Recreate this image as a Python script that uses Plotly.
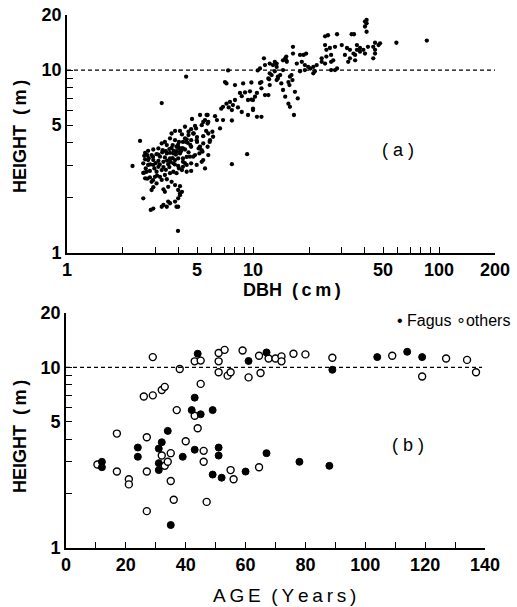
import plotly.graph_objects as go
import math

# ---------------- Panel (a): DBH (cm) vs HEIGHT (m) ----------------
dbh_a = [
    3.23, 5.19, 5.7, 5.52, 5.7, 5.3, 4.88, 4.65, 4.31, 4.05,
    3.81, 3.65, 4.15, 4.5, 4.8, 5.0, 5.4, 5.75, 5.85, 5.4,
    5.0, 4.65, 4.4, 4.2, 4.0, 3.81, 3.58, 3.36, 3.23, 3.44,
    3.7, 3.88, 4.15, 4.31, 4.05, 3.85, 3.73, 3.58, 3.44, 3.27,
    3.1, 2.91, 2.73, 2.63, 2.7, 2.85, 3.03, 3.16, 3.36, 3.58,
    3.81, 3.96, 4.2, 4.58, 4.88, 5.15, 5.3, 4.98, 4.65, 4.4,
    4.2, 3.96, 3.73, 3.5, 3.3, 3.1, 2.91, 2.73, 2.63, 2.57,
    2.73, 2.91, 3.1, 3.23, 3.03, 2.79, 2.68, 2.57, 2.63, 2.79,
    2.97, 3.16, 3.36, 3.58, 3.73, 3.88, 4.15, 4.4, 4.65, 2.85,
    3.03, 2.91, 3.23, 3.44, 3.65, 3.5, 3.81, 4.05, 3.96, 3.3,
    3.36, 2.85, 2.57, 4.05, 3.96, 3.81, 3.58, 3.44, 3.3, 2.91,
    2.82, 3.88, 2.25, 2.47, 5.1, 5.35, 5.7, 5.75, 3.95, 5.52,
    7.7, 9.3,
    4.37, 7.35, 11.45, 11.6, 10.9, 10.6, 13.4, 15.1, 14.0, 13.6,
    15.5, 12.2, 12.3, 10.9, 9.8, 8.85, 8.0, 7.2, 7.07, 11.1,
    9.63, 10.5, 11.6, 12.1, 9.06, 8.51, 8.7, 9.4, 9.8, 8.0,
    7.52, 7.2, 6.9, 6.75, 7.4, 7.8, 8.3, 8.7, 9.4, 10.0,
    10.5, 11.1, 7.7, 6.25, 6.4, 6.9, 7.7, 6.65, 5.63, 5.4,
    4.7, 5.75, 6.05, 6.1, 5.87, 5.6, 4.94, 4.77, 4.5, 4.31,
    4.37, 4.98, 5.19, 5.3, 4.65, 4.2, 4.77, 5.4, 4.2,
    10.25, 10.0, 11.1, 10.0,
    12.1, 12.3, 12.6, 13.1, 13.4, 13.6,
    14.5, 14.2, 14.5, 14.9, 15.5, 15.8, 16.1, 17.4, 16.6, 15.8, 16.8,
    15.2, 14.9, 16.4, 16.4, 17.9, 18.7, 19.3,
    17.2, 18.3, 19.0, 19.8, 17.9, 19.0, 20.3, 21.5, 21.1, 22.0,
    23.4, 24.8, 26.3, 27.0, 24.4, 24.8, 25.9, 27.6,
    23.4, 24.4, 26.3, 25.3, 28.3, 26.3, 27.6, 28.3,
    30.0, 32.0, 33.2, 34.7, 31.2, 33.2, 35.4, 32.5,
    33.9, 34.9,
    36.2, 37.6, 39.2, 41.5, 40.0, 37.6, 36.2, 35.4,
    40.8, 40.8, 40.0, 40.8, 40.0,
    44.3, 45.3, 45.3, 44.3, 47.3, 48.2, 45.3,
    59.0, 86.0, 24.4,
    12.3, 12.8, 14.5, 15.1, 13.1, 13.4, 21.1, 15.7, 16.3,
    3.23, 3.5, 4.05, 4.15, 3.96,
    2.6, 2.75, 2.9, 3.0, 3.1, 3.25, 3.4, 3.55, 3.65, 3.75,
    3.85, 3.9, 3.95, 4.0, 4.1, 3.7, 3.6, 3.45, 3.3, 3.15,
    2.95, 2.8, 2.65, 2.6, 2.7, 2.9, 3.05, 3.4, 3.55, 3.8,
    4.0, 4.3, 4.4, 4.5, 4.6, 4.45,
]
height_a = [
    6.6, 5.68, 5.68, 5.33, 5.1, 5.0, 4.95, 4.75, 4.9, 4.65,
    4.65, 4.5, 4.45, 4.41, 4.5, 4.3, 4.35, 4.5, 4.05, 3.97,
    4.05, 4.14, 4.18, 4.05, 4.05, 4.14, 4.23, 4.05, 3.97, 3.89,
    3.89, 3.81, 3.73, 3.68, 3.5, 3.58, 3.5, 3.53, 3.5, 3.65,
    3.73, 3.68, 3.62, 3.53, 3.43, 3.43, 3.47, 3.36, 3.33, 3.29,
    3.22, 3.29, 3.29, 3.36, 3.43, 3.5, 3.15, 3.03, 3.09, 3.03,
    2.96, 2.99, 3.09, 3.06, 3.15, 3.19, 3.22, 3.22, 3.25, 3.09,
    3.03, 3.03, 2.96, 2.84, 2.78, 2.81, 2.78, 2.74, 2.56, 2.59,
    2.61, 2.61, 2.67, 2.73, 2.78, 2.73, 2.84, 2.78, 2.81, 2.45,
    2.4, 2.29, 2.51, 2.53, 2.45, 2.3, 2.35, 2.32, 2.21, 2.23,
    2.16, 2.21, 1.99, 2.07, 1.99, 1.91, 1.87, 1.79, 1.83, 1.75,
    1.72, 1.79, 2.99, 4.1, 3.73, 3.58, 3.81, 3.43, 1.32, 2.9,
    3.06, 3.47,
    9.2, 9.95, 11.6, 10.65, 10.2, 9.95, 10.85, 11.3, 9.39, 9.0,
    8.6, 8.9, 8.28, 8.5, 8.55, 8.45, 8.28, 8.45, 8.6, 7.95,
    7.65, 7.5, 7.3, 7.3, 7.55, 7.5, 7.2, 6.86, 6.9, 6.86,
    6.7, 6.55, 6.3, 6.15, 6.25, 6.44, 6.25, 5.9, 5.68, 6.04,
    5.55, 5.55, 6.04, 5.6, 5.33, 5.33, 5.3, 4.8, 5.68, 5.2,
    5.4, 5.2, 4.6, 4.32, 4.14, 4.65, 4.8, 4.5, 4.6, 4.23,
    4.05, 4.14, 3.81, 3.65, 3.81, 3.73, 3.36, 3.22, 3.15,
    7.15, 6.86, 8.6, 6.15,
    9.0, 9.6, 9.39, 9.85, 8.82, 9.2,
    10.0, 8.45, 7.78, 7.15, 6.55, 9.2, 9.39, 7.0, 5.68, 6.3, 7.6,
    11.1, 11.6, 13.4, 12.3, 12.1, 12.1, 12.3,
    10.85, 11.1, 10.65, 10.4, 9.85, 10.0, 10.2, 9.85, 10.4, 10.65,
    11.6, 11.85, 12.1, 11.3, 13.7, 12.9, 13.2, 13.4,
    11.1, 10.85, 11.1, 15.5, 15.7, 10.0, 10.0, 10.2,
    13.7, 13.2, 12.9, 12.3, 12.1, 11.6, 11.3, 11.1,
    15.7, 15.7,
    13.7, 13.2, 12.9, 13.4, 12.3, 12.6, 12.9, 12.1,
    18.8, 18.0, 17.3, 16.2, 18.4,
    13.4, 12.9, 12.3, 11.6, 13.7, 14.0, 14.1,
    14.1, 14.5, 15.3,
    10.85, 10.65, 11.3, 11.85, 11.1, 10.4, 9.6, 8.28, 8.82,
    1.79, 1.91, 2.12, 2.16, 1.79,
    3.4, 3.3, 3.35, 3.1, 3.45, 3.55, 3.6, 3.7, 3.75, 3.62,
    3.45, 3.6, 3.9, 3.75, 3.6, 3.3, 3.15, 3.2, 2.95, 3.05,
    2.9, 3.05, 2.9, 2.75, 2.55, 2.5, 2.65, 2.85, 2.95, 3.05,
    2.9, 3.1, 3.35, 3.55, 3.9, 4.0,
]

# ---------------- Panel (b): AGE (years) vs HEIGHT (m) ----------------
age_fagus = [12, 12, 24, 24, 31, 32, 31, 31, 34, 35, 39, 42, 43, 43, 44, 45,
             49, 49, 51, 51, 52, 60, 61, 67, 67, 78, 88, 89, 104, 114, 119]
height_fagus = [3.0, 2.8, 3.6, 3.2, 3.55, 3.85, 2.95, 2.7, 4.45, 1.34, 3.2, 5.8,
                6.8, 3.5, 11.9, 5.5, 5.8, 2.55, 3.6, 3.25, 2.45, 2.65, 10.85,
                3.35, 12.1, 3.0, 2.85, 9.7, 11.4, 12.2, 11.4]

age_others = [10.5, 17, 17, 21, 21, 27, 27, 26, 29, 29, 27, 32, 33, 32, 33, 34,
              35, 35, 36, 37, 38, 40, 43, 43, 45, 45, 44, 46, 46, 47, 51, 51,
              53, 51, 54, 55, 55, 56, 59, 61, 64.5, 64.5, 65, 67.7, 70, 72, 72,
              76, 80, 89, 109, 119, 127, 134, 137]
height_others = [2.9, 4.3, 2.65, 2.4, 2.25, 4.1, 2.65, 6.9, 7.0, 11.4, 1.6, 3.25,
                 2.85, 7.5, 7.8, 3.0, 3.35, 2.35, 1.85, 5.8, 9.8, 3.9, 5.4, 10.8,
                 10.9, 8.1, 4.6, 3.45, 3.0, 1.8, 10.8, 12.0, 12.5, 9.4, 9.0, 9.4,
                 2.7, 2.4, 12.4, 8.8, 2.8, 11.6, 9.3, 11.2, 11.2, 11.5, 10.8,
                 11.9, 11.8, 11.3, 11.6, 8.9, 11.2, 11.0, 9.4]

# axis ticks
y_tickvals = [1, 2, 3, 4, 5, 6, 7, 8, 9, 10, 20]
y_ticktext = ["1", "", "", "", "5", "", "", "", "", "10", "20"]
x1_tickvals = [1, 2, 3, 4, 5, 6, 7, 8, 9, 10, 20, 30, 40, 50, 60, 70, 80, 90, 100, 200]
x1_ticktext = ["1", "", "", "", "5", "", "", "", "", "10", "", "", "", "50", "", "", "", "", "100", "200"]
x2_tickvals = [0, 10, 20, 30, 40, 50, 60, 70, 80, 90, 100, 110, 120, 130, 140]
x2_ticktext = ["0", "", "20", "", "40", "", "60", "", "80", "", "100", "", "120", "", "140"]

W, H = 517, 607
FONT = "Liberation Sans"

def PX(p):
    return p / W

def PY(p):
    return 1 - p / H

fig = go.Figure()
fig.add_trace(go.Scatter(x=dbh_a, y=height_a, mode="markers", xaxis="x", yaxis="y",
                         marker=dict(size=4.3, color="black"), showlegend=False))
fig.add_trace(go.Scatter(x=age_others, y=height_others, mode="markers", xaxis="x2", yaxis="y2",
                         marker=dict(size=7, color="white", line=dict(color="black", width=1.4)),
                         showlegend=False))
fig.add_trace(go.Scatter(x=age_fagus, y=height_fagus, mode="markers", xaxis="x2", yaxis="y2",
                         marker=dict(size=7, color="black", line=dict(color="black", width=1)),
                         showlegend=False))

axis_common = dict(showline=True, linecolor="black", linewidth=1.6, ticks="inside",
                   ticklen=6, tickwidth=1.3, tickcolor="black", showgrid=False,
                   zeroline=False, mirror=False, automargin=False,
                   tickfont=dict(family=FONT, size=18, color="black", weight="bold"))

fig.update_layout(
    template="none",
    width=W, height=H, margin=dict(l=0, r=0, t=0, b=0, pad=0), autosize=False,
    paper_bgcolor="white", plot_bgcolor="white",
    xaxis=dict(type="log", range=[0, math.log10(200)], domain=[PX(67), PX(495)],
               anchor="y", tickmode="array", tickvals=x1_tickvals, ticktext=x1_ticktext,
               **axis_common),
    yaxis=dict(type="log", range=[0, math.log10(20)], domain=[PY(253), PY(15)],
               anchor="x", tickmode="array", tickvals=y_tickvals, ticktext=y_ticktext,
               **axis_common),
    xaxis2=dict(range=[0, 140], domain=[PX(66), PX(485)], anchor="y2",
                tickmode="array", tickvals=x2_tickvals, ticktext=x2_ticktext, **axis_common),
    yaxis2=dict(type="log", range=[0, math.log10(20)], domain=[PY(548), PY(313)],
                anchor="x2", tickmode="array", tickvals=y_tickvals, ticktext=y_ticktext,
                **axis_common),
)

# dashed reference lines at 10 m
fig.add_shape(type="line", xref="x", yref="y", x0=1, x1=200, y0=10, y1=10,
              line=dict(color="black", width=1.3, dash="4px,3px"))
fig.add_shape(type="line", xref="x2", yref="y2", x0=0, x1=139, y0=10, y1=10,
              line=dict(color="black", width=1.3, dash="4px,3px"))

def ann(text, x, y, size=18, angle=0, xanchor="center", weight="normal"):
    fig.add_annotation(text=text, xref="paper", yref="paper", x=PX(x), y=PY(y),
                       xanchor=xanchor, yanchor="middle", showarrow=False, textangle=angle,
                       font=dict(family=FONT, size=size, color="black", weight=weight))

ann("HEIGHT  (\u2009m\u2009)", 20, 137, angle=-90, weight="bold")
ann("HEIGHT  (\u2009m\u2009)", 20, 437, angle=-90, weight="bold")
ann("DBH  (\u2009c\u2009m\u2009)", 292, 290, weight="bold")
ann("A\u2009G\u2009E  (\u2009Y\u2009e\u2009a\u2009r\u2009s\u2009)", 284, 595, size=19)
ann("( a )", 398, 150)
ann("( b )", 408, 445)
ann("• Fagus ∘others", 512, 320, size=16, xanchor="right")

fig.write_html("out.html")
